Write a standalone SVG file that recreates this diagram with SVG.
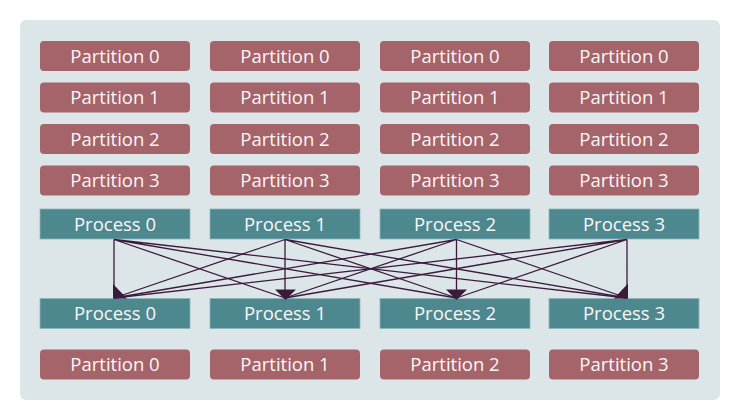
<svg xmlns="http://www.w3.org/2000/svg" width="740" height="420" viewBox="0 0 740 420">
<style>
.part{fill:#a5636a;}
.proc{fill:#4e888f;stroke:#8fb5b9;stroke-width:0.8;}
.t{font-family:"Open Sans","Noto Sans",sans-serif;font-size:18.5px;fill:#fbf7f7;text-anchor:middle;}
.ln{stroke:#3b1a3c;stroke-width:1.3;fill:none;}
.ah{fill:#3b1a3c;}
</style>
<rect x="20" y="20" width="700" height="380" rx="6" fill="#dce6e8"/>
<g id="col0">
<g id="p00"><rect class="part" x="40" y="41" width="150" height="30" rx="4"/><text class="t" x="115" y="62.5">Partition 0</text></g>
<g id="p01"><rect class="part" x="40" y="82.5" width="150" height="30" rx="4"/><text class="t" x="115" y="104">Partition 1</text></g>
<g id="p02"><rect class="part" x="40" y="124" width="150" height="30" rx="4"/><text class="t" x="115" y="145.5">Partition 2</text></g>
<g id="p03"><rect class="part" x="40" y="165.5" width="150" height="30" rx="4"/><text class="t" x="115" y="187">Partition 3</text></g>
</g>
<g id="col1">
<g id="p10"><rect class="part" x="210" y="41" width="150" height="30" rx="4"/><text class="t" x="285" y="62.5">Partition 0</text></g>
<g id="p11"><rect class="part" x="210" y="82.5" width="150" height="30" rx="4"/><text class="t" x="285" y="104">Partition 1</text></g>
<g id="p12"><rect class="part" x="210" y="124" width="150" height="30" rx="4"/><text class="t" x="285" y="145.5">Partition 2</text></g>
<g id="p13"><rect class="part" x="210" y="165.5" width="150" height="30" rx="4"/><text class="t" x="285" y="187">Partition 3</text></g>
</g>
<g id="col2">
<g id="p20"><rect class="part" x="380" y="41" width="150" height="30" rx="4"/><text class="t" x="455" y="62.5">Partition 0</text></g>
<g id="p21"><rect class="part" x="380" y="82.5" width="150" height="30" rx="4"/><text class="t" x="455" y="104">Partition 1</text></g>
<g id="p22"><rect class="part" x="380" y="124" width="150" height="30" rx="4"/><text class="t" x="455" y="145.5">Partition 2</text></g>
<g id="p23"><rect class="part" x="380" y="165.5" width="150" height="30" rx="4"/><text class="t" x="455" y="187">Partition 3</text></g>
</g>
<g id="col3">
<g id="p30"><rect class="part" x="549" y="41" width="150" height="30" rx="4"/><text class="t" x="624" y="62.5">Partition 0</text></g>
<g id="p31"><rect class="part" x="549" y="82.5" width="150" height="30" rx="4"/><text class="t" x="624" y="104">Partition 1</text></g>
<g id="p32"><rect class="part" x="549" y="124" width="150" height="30" rx="4"/><text class="t" x="624" y="145.5">Partition 2</text></g>
<g id="p33"><rect class="part" x="549" y="165.5" width="150" height="30" rx="4"/><text class="t" x="624" y="187">Partition 3</text></g>
</g>
<g id="src0"><rect class="proc" x="40" y="209" width="150" height="30"/><text class="t" x="115" y="230.5">Process 0</text></g>
<g id="src1"><rect class="proc" x="210" y="209" width="150" height="30"/><text class="t" x="285" y="230.5">Process 1</text></g>
<g id="src2"><rect class="proc" x="380" y="209" width="150" height="30"/><text class="t" x="455" y="230.5">Process 2</text></g>
<g id="src3"><rect class="proc" x="549" y="209" width="150" height="30"/><text class="t" x="624" y="230.5">Process 3</text></g>
<g id="dst0"><rect class="proc" x="40" y="298.5" width="150" height="30"/><text class="t" x="115" y="320">Process 0</text></g>
<g id="dst1"><rect class="proc" x="210" y="298.5" width="150" height="30"/><text class="t" x="285" y="320">Process 1</text></g>
<g id="dst2"><rect class="proc" x="380" y="298.5" width="150" height="30"/><text class="t" x="455" y="320">Process 2</text></g>
<g id="dst3"><rect class="proc" x="549" y="298.5" width="150" height="30"/><text class="t" x="624" y="320">Process 3</text></g>
<g id="out0"><rect class="part" x="40" y="349.5" width="150" height="30" rx="4"/><text class="t" x="115" y="371">Partition 0</text></g>
<g id="out1"><rect class="part" x="210" y="349.5" width="150" height="30" rx="4"/><text class="t" x="285" y="371">Partition 1</text></g>
<g id="out2"><rect class="part" x="380" y="349.5" width="150" height="30" rx="4"/><text class="t" x="455" y="371">Partition 2</text></g>
<g id="out3"><rect class="part" x="549" y="349.5" width="150" height="30" rx="4"/><text class="t" x="624" y="371">Partition 3</text></g>
<g id="connectors">
<path class="ln" d="M114 239.5L114 298M114 239.5L285 298M114 239.5L456.5 298M114 239.5L627 298"/>
<path class="ln" d="M285 239.5L114 298M285 239.5L285 298M285 239.5L456.5 298M285 239.5L627 298"/>
<path class="ln" d="M456.5 239.5L114 298M456.5 239.5L285 298M456.5 239.5L456.5 298M456.5 239.5L627 298"/>
<path class="ln" d="M627 239.5L114 298M627 239.5L285 298M627 239.5L456.5 298M627 239.5L627 298"/>
<polygon class="ah" points="113,284 113,298.5 127,298.5"/>
<polygon class="ah" points="275,289.5 296,289.5 285.5,300"/>
<polygon class="ah" points="446,289.5 467,289.5 456.5,300"/>
<polygon class="ah" points="628,283.5 628,298.5 614,298.5"/>
</g>
</svg>
